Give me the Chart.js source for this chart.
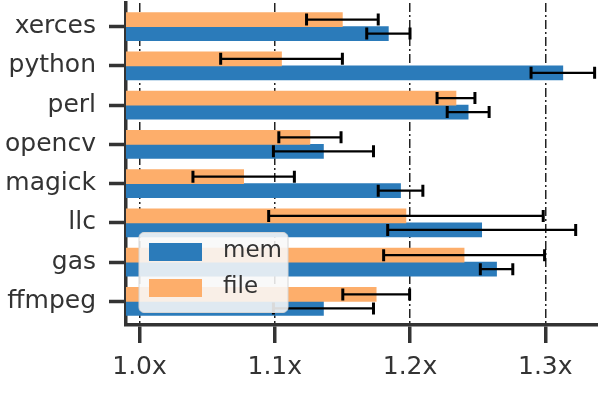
<!DOCTYPE html>
<html>
<head>
<meta charset="utf-8">
<script src="https://cdn.jsdelivr.net/npm/chart.js@4/dist/chart.umd.min.js"></script>
<style>
  body { margin: 0; background: #fff; }
  canvas { display: block; }
</style>
</head>
<body>
<canvas id="chart" width="598" height="393"></canvas>
<script>
// data (speed-up factor, error = half width of the bar)
const categories = ['xerces', 'python', 'perl', 'opencv', 'magick', 'llc', 'gas', 'ffmpeg']
const memValues = [1.184, 1.313, 1.243, 1.136, 1.193, 1.253, 1.264, 1.136]
const memErrors = [0.016, 0.0235, 0.0155, 0.037, 0.0165, 0.0695, 0.012, 0.037]
const fileValues = [1.150, 1.105, 1.234, 1.126, 1.077, 1.197, 1.240, 1.175]
const fileErrors = [0.0265, 0.045, 0.014, 0.023, 0.0375, 0.1015, 0.0595, 0.0247]
const xTicks = [1.0, 1.1, 1.2, 1.3]
const xMin = 0.99
const xMax = 1.339

const blue = '#2b7bba'
const orange = '#fdae6b'
const ink = '#333333'

Chart.defaults.font.family = "'DejaVu Sans', sans-serif"
Chart.defaults.color = ink

const toPoints = (vals) => vals.map((v, i) => ({ x: v, y: i }))

// error bars drawn on top of the bars
const errorBars = {
    id: 'errorBars',
    afterDatasetsDraw(chart) {
        const ctx = chart.ctx
        const xs = chart.scales.x
        chart.data.datasets.forEach((ds, di) => {
            const meta = chart.getDatasetMeta(di)
            meta.data.forEach((bar, i) => {
                const v = ds.data[i].x
                const e = ds.errors[i]
                const x1 = xs.getPixelForValue(v - e)
                const x2 = xs.getPixelForValue(v + e)
                const y = bar.y
                ctx.save()
                ctx.strokeStyle = '#000'
                ctx.lineWidth = 2.2
                ctx.beginPath()
                ctx.moveTo(x1, y)
                ctx.lineTo(x2, y)
                ctx.stroke()
                ctx.lineWidth = 3
                ctx.beginPath()
                ctx.moveTo(x1, y - 6)
                ctx.lineTo(x1, y + 6)
                ctx.moveTo(x2, y - 6)
                ctx.lineTo(x2, y + 6)
                ctx.stroke()
                ctx.restore()
            })
        })
    }
}

// legend inside the plot, lower left, like matplotlib's
const innerLegend = {
    id: 'innerLegend',
    afterDraw(chart) {
        const ctx = chart.ctx
        const items = chart.data.datasets.slice().reverse()
        const bx = 139, by = 232.5, bw = 149, bh = 80
        ctx.save()
        ctx.beginPath()
        ctx.roundRect(bx, by, bw, bh, 5)
        ctx.fillStyle = 'rgba(248,248,248,0.88)'
        ctx.fill()
        ctx.strokeStyle = '#d6d6d6'
        ctx.lineWidth = 1
        ctx.stroke()
        ctx.font = "23px 'DejaVu Sans', sans-serif"
        ctx.textBaseline = 'middle'
        items.forEach((ds, i) => {
            const y = by + 10.5 + i * 36
            ctx.fillStyle = ds.backgroundColor
            ctx.fillRect(bx + 10, y, 53, 18)
            ctx.fillStyle = ink
            ctx.fillText(ds.label, bx + 84, y + 8)
        })
        ctx.restore()
    }
}

new Chart(document.getElementById('chart'), {
    type: 'bar',
    data: {
        datasets: [{
            label: 'file',
            data: toPoints(fileValues),
            errors: fileErrors,
            backgroundColor: orange,
            base: xMin,
            barThickness: 14
        }, {
            label: 'mem',
            data: toPoints(memValues),
            errors: memErrors,
            backgroundColor: blue,
            base: xMin,
            barThickness: 14
        }]
    },
    options: {
        indexAxis: 'y',
        responsive: false,
        animation: false,
        layout: { padding: { top: 3, right: 0, bottom: 0, left: 0 } },
        plugins: {
            legend: { display: false },
            tooltip: { enabled: false }
        },
        scales: {
            x: {
                type: 'linear',
                min: xMin,
                max: xMax,
                afterBuildTicks: (s) => { s.ticks = xTicks.map(v => ({ value: v })) },
                afterFit: (s) => {
                    s.height = 68
                    s.paddingLeft = 0
                    s.paddingRight = 0
                },
                ticks: {
                    font: { size: 25 },
                    color: ink,
                    padding: 9,
                    maxRotation: 0,
                    callback: (v) => Number(v).toFixed(1) + 'x'
                },
                grid: {
                    color: '#222',
                    lineWidth: 1.5,
                    drawTicks: true,
                    tickLength: 18,
                    tickWidth: 3.5,
                    tickColor: ink,
                    tickBorderDash: []
                },
                border: { display: true, color: ink, width: 3.5, dash: [9, 3, 2, 3] }
            },
            y: {
                type: 'linear',
                reverse: true,
                offset: false,
                min: -0.6,
                max: 7.6,
                afterBuildTicks: (s) => { s.ticks = categories.map((c, i) => ({ value: i })) },
                afterFit: (s) => {
                    s.width = 126
                    s.paddingTop = 0
                    s.paddingBottom = 0
                },
                ticks: {
                    font: { size: 25 },
                    color: ink,
                    padding: 13,
                    callback: (v) => categories[v]
                },
                grid: {
                    offset: false,
                    drawOnChartArea: false,
                    drawTicks: true,
                    tickLength: 17,
                    tickWidth: 3.5,
                    tickColor: ink
                },
                border: { display: true, color: ink, width: 3.5 }
            }
        }
    },
    plugins: [errorBars, innerLegend]
})
</script>
</body>
</html>
